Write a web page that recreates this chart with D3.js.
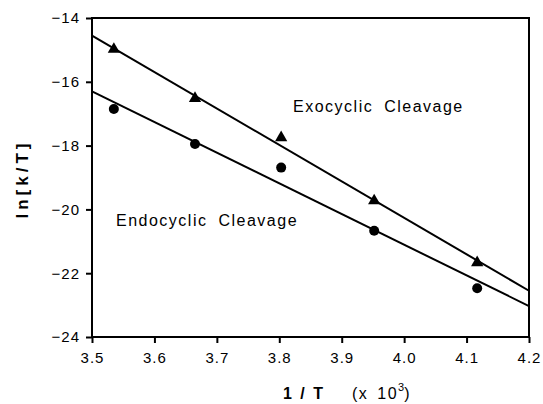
<!DOCTYPE html>
<html>
<head>
<meta charset="utf-8">
<script src="https://cdn.jsdelivr.net/npm/d3@7"></script>
<style>
body { margin: 0; background: #fff; }
text { font-family: "Liberation Sans", Arial, sans-serif; fill: #000; }
</style>
</head>
<body>
<script>
// data
var exoX = [3.535, 3.665, 3.803, 3.952, 4.117];
var exoY = [-14.98, -16.52, -17.75, -19.73, -21.67];
var endoX = [3.535, 3.665, 3.803, 3.952, 4.117];
var endoY = [-16.85, -17.95, -18.69, -20.67, -22.47];
var fitX = [3.5, 4.2];
var exoFit = [-14.55, -22.55];
var endoFit = [-16.3, -23.03];
var xTicks = [3.5, 3.6, 3.7, 3.8, 3.9, 4.0, 4.1, 4.2];
var yTicks = [-24, -22, -20, -18, -16, -14];

var W = 543, H = 404;
var m = {left: 92, right: 14, top: 18, bottom: 67};

var svg = d3.select("body").append("svg")
  .attr("width", W).attr("height", H);

var x = d3.scaleLinear().domain([3.5, 4.2]).range([m.left, W - m.right]);
var y = d3.scaleLinear().domain([-24, -14]).range([H - m.bottom, m.top]);

// frame
svg.append("rect")
  .attr("x", x(3.5)).attr("y", y(-14))
  .attr("width", x(4.2) - x(3.5)).attr("height", y(-24) - y(-14))
  .attr("fill", "none").attr("stroke", "#000").attr("stroke-width", 2);

// x axis
var xAxis = svg.append("g").attr("transform", "translate(0," + y(-24) + ")");
xAxis.call(d3.axisBottom(x).tickValues(d3.range(3.55, 4.2, 0.1)).tickSize(4).tickFormat(""));
xAxis.call(d3.axisBottom(x).tickValues(xTicks).tickSize(6).tickPadding(9).tickFormat(d3.format(".1f")));
xAxis.selectAll("path").remove();
xAxis.selectAll("line").attr("stroke-width", 2);
xAxis.selectAll("text").style("font-size", "15px").style("letter-spacing", "1px");

// y axis
var yAxis = svg.append("g").attr("transform", "translate(" + x(3.5) + ",0)");
yAxis.call(d3.axisLeft(y).tickValues(d3.range(-23, -14, 2)).tickSize(4).tickFormat(""));
yAxis.call(d3.axisLeft(y).tickValues(yTicks).tickSize(6).tickPadding(6).tickFormat(d3.format("d")));
yAxis.selectAll("path").remove();
yAxis.selectAll("line").attr("stroke-width", 2);
yAxis.selectAll("text").style("font-size", "15px").style("letter-spacing", "1px");

// fit lines
var line = d3.line().x(function(d) { return x(d[0]); }).y(function(d) { return y(d[1]); });
[exoFit, endoFit].forEach(function(f) {
  svg.append("path")
    .attr("d", line(d3.zip(fitX, f)))
    .attr("fill", "none").attr("stroke", "#000").attr("stroke-width", 2);
});

// markers
svg.selectAll(".tri").data(d3.zip(exoX, exoY)).enter().append("path")
  .attr("d", d3.symbol().type(d3.symbolTriangle).size(65))
  .attr("transform", function(d) { return "translate(" + x(d[0]) + "," + y(d[1]) + ")"; })
  .attr("fill", "#000");
svg.selectAll(".dot").data(d3.zip(endoX, endoY)).enter().append("circle")
  .attr("cx", function(d) { return x(d[0]); })
  .attr("cy", function(d) { return y(d[1]); })
  .attr("r", 5).attr("fill", "#000");

// labels
svg.append("text").attr("x", 293).attr("y", 112)
  .style("font-size", "16px").style("letter-spacing", "1.5px").style("word-spacing", "5px")
  .text("Exocyclic Cleavage");
svg.append("text").attr("x", 116).attr("y", 226)
  .style("font-size", "16px").style("letter-spacing", "1.5px").style("word-spacing", "5px")
  .text("Endocyclic Cleavage");

// axis titles
svg.append("text")
  .attr("transform", "translate(28,179) rotate(-90)")
  .attr("text-anchor", "middle")
  .style("font-size", "17px").style("font-weight", "bold").style("letter-spacing", "4px")
  .text("ln[k/T]");

var xt = svg.append("text").attr("x", 283).attr("y", 399).style("font-size", "16px");
xt.append("tspan").style("font-weight", "bold").style("letter-spacing", "2px").text("1 / T");
xt.append("tspan").attr("x", 352).style("letter-spacing", "1.5px").style("word-spacing", "3px").text("(x 10");
xt.append("tspan").attr("dy", -8).style("font-size", "11px").text("3");
xt.append("tspan").attr("dy", 8).text(")");
</script>
</body>
</html>
